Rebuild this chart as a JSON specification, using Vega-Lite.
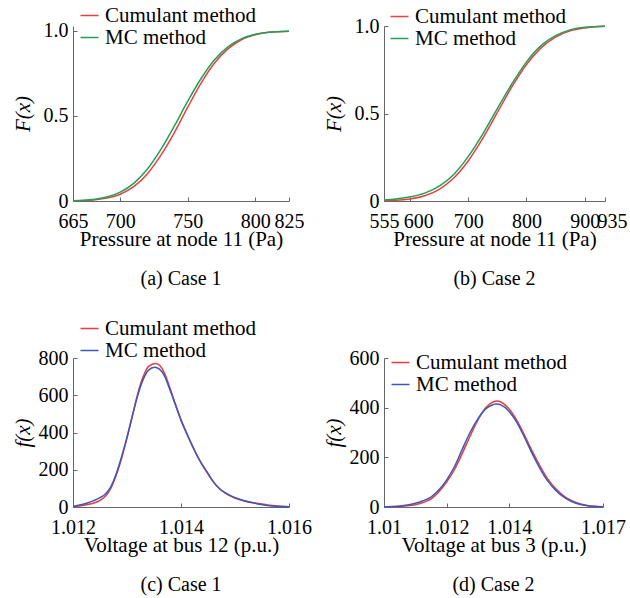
{
  "$schema": "https://vega.github.io/schema/vega-lite/v6.json",
  "padding": {"left": 12, "top": 5, "right": 5, "bottom": 5},
  "background": "white",
  "config": {
    "view": {"stroke": null},
    "font": "Liberation Serif",
    "axis": {
      "labelFont": "Liberation Serif", "labelFontSize": 20, "labelColor": "#000",
      "titleFont": "Liberation Serif", "titleFontSize": 21, "titleFontWeight": "normal", "titleColor": "#000",
      "domainColor": "#666", "tickColor": "#666", "tickSize": -4, "grid": false,
      "labelFlush": false, "labelOverlap": false
    },
    "axisY": {"labelPadding": 9, "titleX": -40},
    "axisX": {"labelPadding": 14, "titleY": 27},
    "legend": {
      "orient": "none", "title": null, "symbolType": "stroke", "symbolSize": 324,
      "symbolStrokeWidth": 1.5, "labelFont": "Liberation Serif", "labelFontSize": 21,
      "labelColor": "#000", "labelOffset": 5, "rowPadding": 0, "padding": 0
    },
    "title": {"font": "Liberation Serif", "fontSize": 20, "fontWeight": "normal", "color": "#000", "orient": "bottom", "offset": 20}
  },
  "datasets": {
    "a": [
      {"x": 665, "F": 0.001, "method": "Cumulant method"}, {"x": 680, "F": 0.006, "method": "Cumulant method"},
      {"x": 690, "F": 0.017, "method": "Cumulant method"}, {"x": 700, "F": 0.040, "method": "Cumulant method"},
      {"x": 710, "F": 0.084, "method": "Cumulant method"}, {"x": 720, "F": 0.159, "method": "Cumulant method"},
      {"x": 730, "F": 0.268, "method": "Cumulant method"}, {"x": 740, "F": 0.401, "method": "Cumulant method"},
      {"x": 750, "F": 0.552, "method": "Cumulant method"}, {"x": 760, "F": 0.695, "method": "Cumulant method"},
      {"x": 770, "F": 0.813, "method": "Cumulant method"}, {"x": 780, "F": 0.896, "method": "Cumulant method"},
      {"x": 790, "F": 0.950, "method": "Cumulant method"}, {"x": 800, "F": 0.978, "method": "Cumulant method"},
      {"x": 810, "F": 0.992, "method": "Cumulant method"}, {"x": 825, "F": 0.998, "method": "Cumulant method"},
      {"x": 665, "F": 0.002, "method": "MC method"}, {"x": 680, "F": 0.009, "method": "MC method"},
      {"x": 690, "F": 0.023, "method": "MC method"}, {"x": 700, "F": 0.052, "method": "MC method"},
      {"x": 710, "F": 0.104, "method": "MC method"}, {"x": 720, "F": 0.187, "method": "MC method"},
      {"x": 730, "F": 0.302, "method": "MC method"}, {"x": 740, "F": 0.440, "method": "MC method"},
      {"x": 750, "F": 0.587, "method": "MC method"}, {"x": 760, "F": 0.722, "method": "MC method"},
      {"x": 770, "F": 0.832, "method": "MC method"}, {"x": 780, "F": 0.908, "method": "MC method"},
      {"x": 790, "F": 0.955, "method": "MC method"}, {"x": 800, "F": 0.981, "method": "MC method"},
      {"x": 810, "F": 0.993, "method": "MC method"}, {"x": 825, "F": 0.999, "method": "MC method"}
    ],
    "b": [
      {"x": 555, "F": 0.002, "method": "Cumulant method"}, {"x": 575, "F": 0.004, "method": "Cumulant method"},
      {"x": 600, "F": 0.012, "method": "Cumulant method"}, {"x": 625, "F": 0.030, "method": "Cumulant method"},
      {"x": 650, "F": 0.067, "method": "Cumulant method"}, {"x": 675, "F": 0.131, "method": "Cumulant method"},
      {"x": 700, "F": 0.230, "method": "Cumulant method"}, {"x": 725, "F": 0.359, "method": "Cumulant method"},
      {"x": 750, "F": 0.506, "method": "Cumulant method"}, {"x": 775, "F": 0.653, "method": "Cumulant method"},
      {"x": 800, "F": 0.780, "method": "Cumulant method"}, {"x": 825, "F": 0.875, "method": "Cumulant method"},
      {"x": 850, "F": 0.937, "method": "Cumulant method"}, {"x": 875, "F": 0.972, "method": "Cumulant method"},
      {"x": 900, "F": 0.989, "method": "Cumulant method"}, {"x": 935, "F": 0.999, "method": "Cumulant method"},
      {"x": 555, "F": 0.005, "method": "MC method"}, {"x": 575, "F": 0.012, "method": "MC method"},
      {"x": 600, "F": 0.024, "method": "MC method"}, {"x": 625, "F": 0.045, "method": "MC method"},
      {"x": 650, "F": 0.085, "method": "MC method"}, {"x": 675, "F": 0.152, "method": "MC method"},
      {"x": 700, "F": 0.255, "method": "MC method"}, {"x": 725, "F": 0.384, "method": "MC method"},
      {"x": 750, "F": 0.529, "method": "MC method"}, {"x": 775, "F": 0.670, "method": "MC method"},
      {"x": 800, "F": 0.795, "method": "MC method"}, {"x": 825, "F": 0.888, "method": "MC method"},
      {"x": 850, "F": 0.945, "method": "MC method"}, {"x": 875, "F": 0.978, "method": "MC method"},
      {"x": 900, "F": 0.993, "method": "MC method"}, {"x": 935, "F": 0.999, "method": "MC method"}
    ],
    "c": [
      {"x": 1.0120, "f": 2, "method": "Cumulant method"}, {"x": 1.01225, "f": 12, "method": "Cumulant method"},
      {"x": 1.0125, "f": 36, "method": "Cumulant method"}, {"x": 1.0126, "f": 58, "method": "Cumulant method"},
      {"x": 1.0127, "f": 100, "method": "Cumulant method"}, {"x": 1.0128, "f": 170, "method": "Cumulant method"},
      {"x": 1.0129, "f": 262, "method": "Cumulant method"},
      {"x": 1.0130, "f": 370, "method": "Cumulant method"}, {"x": 1.0131, "f": 490, "method": "Cumulant method"},
      {"x": 1.0132, "f": 610, "method": "Cumulant method"}, {"x": 1.0133, "f": 700, "method": "Cumulant method"},
      {"x": 1.0134, "f": 755, "method": "Cumulant method"}, {"x": 1.01353, "f": 771, "method": "Cumulant method"},
      {"x": 1.0136, "f": 762, "method": "Cumulant method"}, {"x": 1.0137, "f": 715, "method": "Cumulant method"},
      {"x": 1.0138, "f": 635, "method": "Cumulant method"}, {"x": 1.0139, "f": 550, "method": "Cumulant method"},
      {"x": 1.0140, "f": 470, "method": "Cumulant method"}, {"x": 1.0141, "f": 400, "method": "Cumulant method"},
      {"x": 1.0142, "f": 335, "method": "Cumulant method"}, {"x": 1.0143, "f": 275, "method": "Cumulant method"},
      {"x": 1.0144, "f": 222, "method": "Cumulant method"}, {"x": 1.0145, "f": 178, "method": "Cumulant method"},
      {"x": 1.0146, "f": 135, "method": "Cumulant method"}, {"x": 1.0147, "f": 102, "method": "Cumulant method"},
      {"x": 1.0148, "f": 78, "method": "Cumulant method"}, {"x": 1.0149, "f": 61, "method": "Cumulant method"},
      {"x": 1.0150, "f": 48, "method": "Cumulant method"}, {"x": 1.0152, "f": 30, "method": "Cumulant method"},
      {"x": 1.0154, "f": 20, "method": "Cumulant method"}, {"x": 1.0156, "f": 11, "method": "Cumulant method"},
      {"x": 1.0158, "f": 5, "method": "Cumulant method"}, {"x": 1.0160, "f": 2, "method": "Cumulant method"},
      {"x": 1.0120, "f": 3, "method": "MC method"}, {"x": 1.01225, "f": 20, "method": "MC method"},
      {"x": 1.0125, "f": 50, "method": "MC method"}, {"x": 1.0126, "f": 70, "method": "MC method"},
      {"x": 1.0127, "f": 108, "method": "MC method"}, {"x": 1.0128, "f": 178, "method": "MC method"},
      {"x": 1.0129, "f": 270, "method": "MC method"},
      {"x": 1.0130, "f": 375, "method": "MC method"}, {"x": 1.0131, "f": 490, "method": "MC method"},
      {"x": 1.0132, "f": 600, "method": "MC method"}, {"x": 1.0133, "f": 685, "method": "MC method"},
      {"x": 1.0134, "f": 735, "method": "MC method"}, {"x": 1.01351, "f": 750, "method": "MC method"},
      {"x": 1.0136, "f": 740, "method": "MC method"}, {"x": 1.0137, "f": 700, "method": "MC method"},
      {"x": 1.0138, "f": 625, "method": "MC method"}, {"x": 1.0139, "f": 545, "method": "MC method"},
      {"x": 1.0140, "f": 465, "method": "MC method"}, {"x": 1.0141, "f": 398, "method": "MC method"},
      {"x": 1.0142, "f": 335, "method": "MC method"}, {"x": 1.0143, "f": 275, "method": "MC method"},
      {"x": 1.0144, "f": 225, "method": "MC method"}, {"x": 1.0145, "f": 180, "method": "MC method"},
      {"x": 1.0146, "f": 135, "method": "MC method"}, {"x": 1.0147, "f": 102, "method": "MC method"},
      {"x": 1.0148, "f": 80, "method": "MC method"}, {"x": 1.0149, "f": 64, "method": "MC method"},
      {"x": 1.0150, "f": 50, "method": "MC method"}, {"x": 1.0152, "f": 32, "method": "MC method"},
      {"x": 1.0154, "f": 18, "method": "MC method"}, {"x": 1.0156, "f": 8, "method": "MC method"},
      {"x": 1.0158, "f": 3, "method": "MC method"}, {"x": 1.0160, "f": 1, "method": "MC method"}
    ],
    "d": [
      {"x": 1.0100, "f": 0.5, "method": "Cumulant method"}, {"x": 1.01025, "f": 1.2, "method": "Cumulant method"},
      {"x": 1.0105, "f": 2.5, "method": "Cumulant method"}, {"x": 1.01075, "f": 5, "method": "Cumulant method"},
      {"x": 1.0110, "f": 9, "method": "Cumulant method"}, {"x": 1.01125, "f": 18, "method": "Cumulant method"},
      {"x": 1.0115, "f": 32, "method": "Cumulant method"}, {"x": 1.01175, "f": 60, "method": "Cumulant method"},
      {"x": 1.0120, "f": 100, "method": "Cumulant method"}, {"x": 1.01225, "f": 150, "method": "Cumulant method"},
      {"x": 1.0125, "f": 215, "method": "Cumulant method"}, {"x": 1.01275, "f": 285, "method": "Cumulant method"},
      {"x": 1.0130, "f": 350, "method": "Cumulant method"}, {"x": 1.01325, "f": 400, "method": "Cumulant method"},
      {"x": 1.0135, "f": 424, "method": "Cumulant method"}, {"x": 1.0136, "f": 427, "method": "Cumulant method"},
      {"x": 1.01375, "f": 422, "method": "Cumulant method"}, {"x": 1.0140, "f": 395, "method": "Cumulant method"},
      {"x": 1.01425, "f": 348, "method": "Cumulant method"}, {"x": 1.0145, "f": 287, "method": "Cumulant method"},
      {"x": 1.01475, "f": 222, "method": "Cumulant method"}, {"x": 1.0150, "f": 162, "method": "Cumulant method"},
      {"x": 1.01525, "f": 110, "method": "Cumulant method"}, {"x": 1.0155, "f": 72, "method": "Cumulant method"},
      {"x": 1.01575, "f": 44, "method": "Cumulant method"}, {"x": 1.0160, "f": 25, "method": "Cumulant method"},
      {"x": 1.01625, "f": 13, "method": "Cumulant method"}, {"x": 1.0165, "f": 6.5, "method": "Cumulant method"},
      {"x": 1.01675, "f": 3, "method": "Cumulant method"}, {"x": 1.0170, "f": 1.3, "method": "Cumulant method"},
      {"x": 1.0100, "f": 1, "method": "MC method"}, {"x": 1.01025, "f": 2, "method": "MC method"},
      {"x": 1.0105, "f": 4, "method": "MC method"}, {"x": 1.01075, "f": 8, "method": "MC method"},
      {"x": 1.0110, "f": 15, "method": "MC method"}, {"x": 1.01125, "f": 25, "method": "MC method"},
      {"x": 1.0115, "f": 40, "method": "MC method"}, {"x": 1.01175, "f": 68, "method": "MC method"},
      {"x": 1.0120, "f": 108, "method": "MC method"}, {"x": 1.01225, "f": 162, "method": "MC method"},
      {"x": 1.0125, "f": 232, "method": "MC method"}, {"x": 1.01275, "f": 300, "method": "MC method"},
      {"x": 1.0130, "f": 355, "method": "MC method"}, {"x": 1.01325, "f": 395, "method": "MC method"},
      {"x": 1.0135, "f": 413, "method": "MC method"}, {"x": 1.01358, "f": 415, "method": "MC method"},
      {"x": 1.01375, "f": 410, "method": "MC method"}, {"x": 1.0140, "f": 385, "method": "MC method"},
      {"x": 1.01425, "f": 340, "method": "MC method"}, {"x": 1.0145, "f": 278, "method": "MC method"},
      {"x": 1.01475, "f": 212, "method": "MC method"}, {"x": 1.0150, "f": 152, "method": "MC method"},
      {"x": 1.01525, "f": 102, "method": "MC method"}, {"x": 1.0155, "f": 66, "method": "MC method"},
      {"x": 1.01575, "f": 40, "method": "MC method"}, {"x": 1.0160, "f": 22, "method": "MC method"},
      {"x": 1.01625, "f": 11, "method": "MC method"}, {"x": 1.0165, "f": 5, "method": "MC method"},
      {"x": 1.01675, "f": 2, "method": "MC method"}, {"x": 1.0170, "f": 1, "method": "MC method"}
    ]
  },
  "columns": 2,
  "spacing": {"row": 157, "column": 95},
  "bounds": "flush",
  "resolve": {"scale": {"color": "independent"}, "legend": {"color": "independent"}},
  "concat": [
    {
      "width": 216, "height": 175,
      "data": {"name": "a"},
      "mark": {"type": "line", "interpolate": "monotone", "strokeWidth": 1.5},
      "encoding": {
        "x": {"field": "x", "type": "quantitative", "scale": {"domain": [665, 825], "nice": false, "zero": false},
              "axis": {"values": [665, 700, 750, 800, 825], "format": "d", "title": "Pressure at node 11 (Pa)"}},
        "y": {"field": "F", "type": "quantitative", "scale": {"domain": [0, 1.0294], "nice": false},
              "axis": {"values": [0, 0.5, 1], "labelExpr": "datum.value == 0 ? '0' : format(datum.value, '.1f')", "title": "F(x)", "titleFontStyle": "italic"}},
        "color": {"field": "method", "type": "nominal",
                  "scale": {"domain": ["Cumulant method", "MC method"], "range": ["#e8403a", "#1fa05a"]},
                  "legend": {"legendX": 6, "legendY": -21}}
      },
      "title": {"text": "(a) Case 1"}
    },
    {
      "width": 221, "height": 175,
      "data": {"name": "b"},
      "mark": {"type": "line", "interpolate": "monotone", "strokeWidth": 1.5},
      "encoding": {
        "x": {"field": "x", "type": "quantitative", "scale": {"domain": [555, 935], "nice": false, "zero": false},
              "axis": {"values": [555, 600, 700, 800, 900, 935], "format": "d", "title": "Pressure at node 11 (Pa)",
                       "labelOffset": {"condition": [{"test": "datum.value == 555", "value": 0}, {"test": "datum.value == 600", "value": 8}, {"test": "datum.value == 935", "value": 7}], "value": 0}}},
        "y": {"field": "F", "type": "quantitative", "scale": {"domain": [0, 1], "nice": false},
              "axis": {"values": [0, 0.5, 1], "labelExpr": "datum.value == 0 ? '0' : format(datum.value, '.1f')", "title": "F(x)", "titleFontStyle": "italic"}},
        "color": {"field": "method", "type": "nominal",
                  "scale": {"domain": ["Cumulant method", "MC method"], "range": ["#e8403a", "#1fa05a"]},
                  "legend": {"legendX": 5, "legendY": -20}}
      },
      "title": {"text": "(b) Case 2"}
    },
    {
      "width": 216, "height": 149,
      "data": {"name": "c"},
      "mark": {"type": "line", "interpolate": "monotone", "strokeWidth": 1.5},
      "encoding": {
        "x": {"field": "x", "type": "quantitative", "scale": {"domain": [1.012, 1.016], "nice": false, "zero": false},
              "axis": {"values": [1.012, 1.014, 1.016], "format": "~g", "title": "Voltage at bus 12 (p.u.)"}},
        "y": {"field": "f", "type": "quantitative", "scale": {"domain": [0, 800], "nice": false},
              "axis": {"values": [0, 200, 400, 600, 800], "format": "d", "title": "f(x)", "titleFontStyle": "italic"}},
        "color": {"field": "method", "type": "nominal",
                  "scale": {"domain": ["Cumulant method", "MC method"], "range": ["#ee3b3b", "#3a59b8"]},
                  "legend": {"legendX": 6, "legendY": -40}}
      },
      "title": {"text": "(c) Case 1"}
    },
    {
      "width": 219, "height": 149,
      "data": {"name": "d"},
      "mark": {"type": "line", "interpolate": "monotone", "strokeWidth": 1.5},
      "encoding": {
        "x": {"field": "x", "type": "quantitative", "scale": {"domain": [1.01, 1.017], "nice": false, "zero": false},
              "axis": {"values": [1.01, 1.012, 1.014, 1.017], "format": "~g", "title": "Voltage at bus 3 (p.u.)"}},
        "y": {"field": "f", "type": "quantitative", "scale": {"domain": [0, 600], "nice": false},
              "axis": {"values": [0, 200, 400, 600], "format": "d", "title": "f(x)", "titleFontStyle": "italic"}},
        "color": {"field": "method", "type": "nominal",
                  "scale": {"domain": ["Cumulant method", "MC method"], "range": ["#ee3b3b", "#3a59b8"]},
                  "legend": {"legendX": 6, "legendY": -6}}
      },
      "title": {"text": "(d) Case 2"}
    }
  ]
}
